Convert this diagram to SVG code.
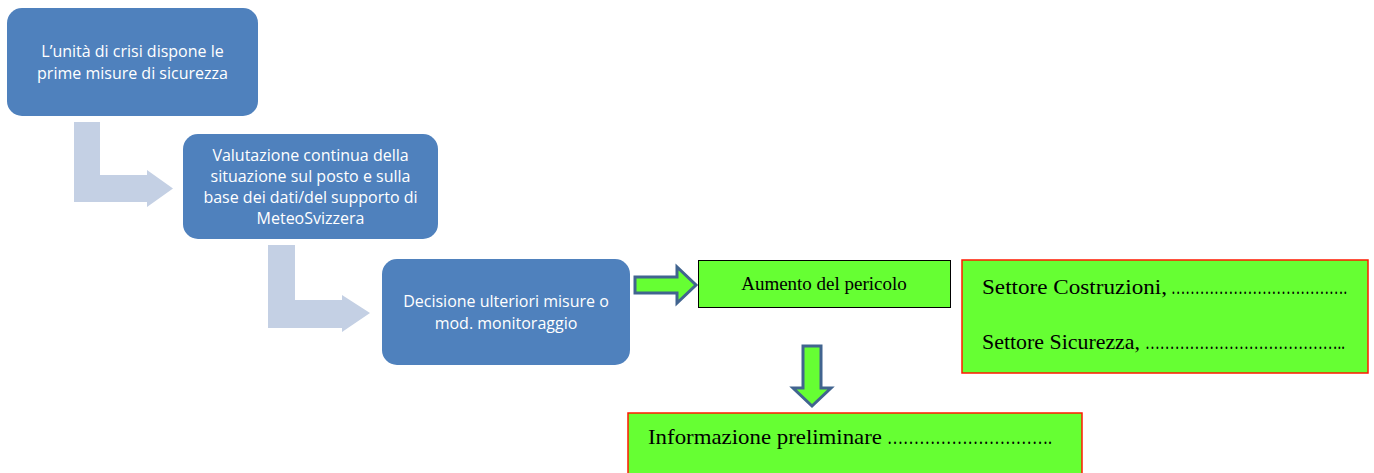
<svg xmlns="http://www.w3.org/2000/svg" width="1374" height="473" viewBox="0 0 1374 473">
<style>
.blue{fill:#4F81BD;}
.bt{font-family:"Open Sans","Liberation Sans",Arial,sans-serif;font-size:16px;fill:#FFFFFF;text-anchor:middle;}
.bent{fill:#C4D0E4;}
.green{fill:#66FF33;}
.red{stroke:#FF1A00;stroke-width:1.5;}
.gt{font-family:"Liberation Serif","Times New Roman",serif;fill:#000000;}
.gar{fill:#66FF33;stroke:#41648F;stroke-width:3;stroke-linejoin:miter;}
</style>
<rect width="1374" height="473" fill="#FFFFFF"/>
<g id="connectors">
<polygon class="bent" points="74,122 100,122 100,175 147,175 147,170 173,188.5 147,207 147,202 74,202"/>
<polygon class="bent" points="268,245 295,245 295,300 342,300 342,295 370,313 342,332 342,328 268,328"/>
<polygon class="gar" points="635,277 677,277 677,267 696,285 677,303 677,293 635,293"/>
<polygon class="gar" points="803,346 821,346 821,388 831,388 812,406 793,388 803,388"/>
</g>
<g id="node1">
<rect class="blue" x="7" y="8" width="251" height="108" rx="15"/>
<text class="bt" x="132.5" y="57">L’unità di crisi dispone le</text>
<text class="bt" x="132.5" y="79">prime misure di sicurezza</text>
</g>
<g id="node2">
<rect class="blue" x="183" y="134" width="255" height="105" rx="15"/>
<text class="bt" x="310.5" y="161">Valutazione continua della</text>
<text class="bt" x="310.5" y="182">situazione sul posto e sulla</text>
<text class="bt" x="310.5" y="203">base dei dati/del supporto di</text>
<text class="bt" x="310.5" y="224">MeteoSvizzera</text>
</g>
<g id="node3">
<rect class="blue" x="382" y="259" width="248" height="106" rx="15"/>
<text class="bt" x="506" y="307">Decisione ulteriori misure o</text>
<text class="bt" x="506" y="329">mod. monitoraggio</text>
</g>
<g id="node4">
<rect class="green" x="698.5" y="260.5" width="252" height="47" stroke="#000000" stroke-width="1"/>
<text class="gt" x="824" y="290" font-size="19" text-anchor="middle">Aumento del pericolo</text>
</g>
<g id="node5">
<rect class="green red" x="962" y="260" width="406" height="113"/>
<text class="gt" x="982" y="294" font-size="22"><tspan x="982" textLength="185" lengthAdjust="spacingAndGlyphs">Settore Costruzioni,</tspan> <tspan x="1171" textLength="176" lengthAdjust="spacingAndGlyphs">……………………………….</tspan></text>
<text class="gt" x="982" y="349" font-size="22"><tspan x="982" textLength="158" lengthAdjust="spacingAndGlyphs">Settore Sicurezza,</tspan> <tspan x="1145" textLength="200" lengthAdjust="spacingAndGlyphs">…………………………………..</tspan></text>
</g>
<g id="node6">
<rect class="green red" x="628" y="413" width="454" height="70"/>
<text class="gt" x="648" y="444" font-size="22"><tspan x="648" textLength="234" lengthAdjust="spacingAndGlyphs">Informazione preliminare</tspan> <tspan x="887" textLength="165" lengthAdjust="spacingAndGlyphs">………………………….</tspan></text>
</g>
</svg>
